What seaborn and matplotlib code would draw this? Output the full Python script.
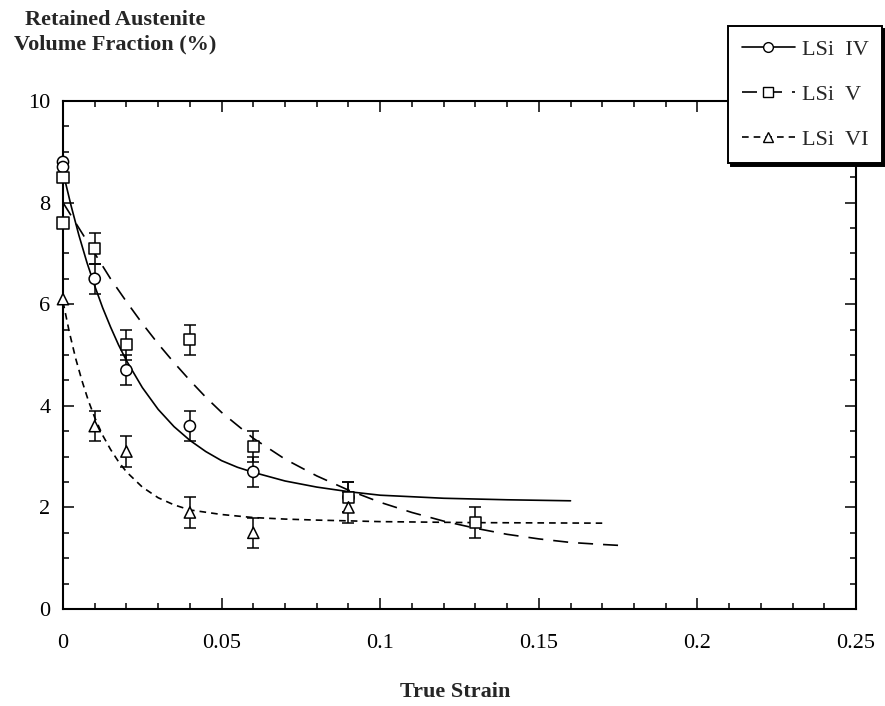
import numpy as np
import pandas as pd
import seaborn as sns
import matplotlib.pyplot as plt
from matplotlib.lines import Line2D
from matplotlib.ticker import MultipleLocator

sns.set_style("ticks")
plt.rcParams["font.family"] = ["Liberation Serif", "DejaVu Serif"]

# measured points (strain, retained austenite %, error)
iv_x = [0, 0, 0.01, 0.02, 0.04, 0.06, 0.09]
iv_y = [8.8, 8.7, 6.5, 4.7, 3.6, 2.7, 2.2]
iv_err = [0, 0, 0.3, 0.3, 0.3, 0.3, 0.3]

v_x = [0, 0, 0.01, 0.02, 0.04, 0.06, 0.09, 0.13]
v_y = [8.5, 7.6, 7.1, 5.2, 5.3, 3.2, 2.2, 1.7]
v_err = [0, 0, 0.3, 0.3, 0.3, 0.3, 0.3, 0.3]

vi_x = [0, 0.01, 0.02, 0.04, 0.06, 0.09]
vi_y = [6.1, 3.6, 3.1, 1.9, 1.5, 2.0]
vi_err = [0, 0.3, 0.3, 0.3, 0.3, 0.3]

# fitted curves
iv_fit_x = [0, 0.0025, 0.005, 0.0075, 0.01, 0.0125, 0.015, 0.0175, 0.02, 0.025, 0.03, 0.035,
            0.04, 0.045, 0.05, 0.055, 0.06, 0.07, 0.08, 0.09, 0.1, 0.12, 0.14, 0.16]
iv_fit_y = [8.6, 7.95, 7.36, 6.83, 6.36, 5.93, 5.55, 5.2, 4.89, 4.36, 3.93, 3.59,
            3.32, 3.1, 2.92, 2.79, 2.69, 2.52, 2.4, 2.31, 2.24, 2.18, 2.15, 2.13]

v_fit_x = [0, 0.005, 0.01, 0.015, 0.02, 0.025, 0.03, 0.035, 0.04, 0.045, 0.05, 0.06,
           0.07, 0.08, 0.09, 0.1, 0.11, 0.12, 0.13, 0.14, 0.15, 0.16, 0.17, 0.176]
v_fit_y = [8.0, 7.5, 7.0, 6.5, 6.05, 5.62, 5.22, 4.85, 4.5, 4.17, 3.87, 3.36,
           2.95, 2.62, 2.34, 2.1, 1.9, 1.73, 1.59, 1.47, 1.38, 1.31, 1.27, 1.25]

vi_fit_x = [0, 0.002, 0.004, 0.006, 0.008, 0.01, 0.0125, 0.015, 0.0175, 0.02, 0.025, 0.03,
            0.035, 0.04, 0.05, 0.06, 0.07, 0.08, 0.1, 0.13, 0.17]
vi_fit_y = [6.05, 5.45, 4.93, 4.49, 4.1, 3.77, 3.42, 3.14, 2.9, 2.7, 2.4, 2.19,
            2.05, 1.95, 1.86, 1.8, 1.77, 1.75, 1.72, 1.7, 1.69]

names = ["LSi  IV", "LSi  V", "LSi  VI"]
markers = {"LSi  IV": "o", "LSi  V": "s", "LSi  VI": "^"}
dashes = {"LSi  IV": "", "LSi  V": (9, 6), "LSi  VI": (4, 3)}

pts = pd.concat([
    pd.DataFrame({"x": iv_x, "y": iv_y, "err": iv_err, "series": names[0]}),
    pd.DataFrame({"x": v_x, "y": v_y, "err": v_err, "series": names[1]}),
    pd.DataFrame({"x": vi_x, "y": vi_y, "err": vi_err, "series": names[2]}),
])
fits = pd.concat([
    pd.DataFrame({"x": iv_fit_x, "y": iv_fit_y, "series": names[0]}),
    pd.DataFrame({"x": v_fit_x, "y": v_fit_y, "series": names[1]}),
    pd.DataFrame({"x": vi_fit_x, "y": vi_fit_y, "series": names[2]}),
])

fig = plt.figure(figsize=(8.85, 7.06), dpi=100)
ax = fig.add_axes([63 / 885, 1 - 609 / 706, (856 - 63) / 885, (609 - 101) / 706])

sns.lineplot(data=fits, x="x", y="y", style="series", dashes=dashes,
             color="black", linewidth=1.2, legend=False, ax=ax, sort=False)

err = pts[pts["err"] > 0]
ax.errorbar(err["x"], err["y"], yerr=err["err"], fmt="none", ecolor="black",
            elinewidth=1.1, capsize=4, capthick=1.1, zorder=3)

sns.scatterplot(data=pts, x="x", y="y", style="series", markers=markers,
                s=65, facecolor="white", edgecolor="black", linewidth=1.1,
                legend=False, ax=ax, zorder=4, clip_on=False)

ax.set_xlim(0, 0.25)
ax.set_ylim(0, 10)
ax.xaxis.set_major_locator(MultipleLocator(0.05))
ax.xaxis.set_minor_locator(MultipleLocator(0.01))
ax.yaxis.set_major_locator(MultipleLocator(2))
ax.yaxis.set_minor_locator(MultipleLocator(0.5))
ax.set_xticks([0, 0.05, 0.1, 0.15, 0.2, 0.25])
ax.set_xticklabels(["0", "0.05", "0.1", "0.15", "0.2", "0.25"])
ax.tick_params(which="both", direction="in", top=True, right=True,
               labelsize=16, colors="black", width=1.1)
ax.tick_params(which="major", length=8)
ax.tick_params(which="minor", length=4)
ax.tick_params(axis="x", which="major", pad=18)
ax.tick_params(axis="y", which="major", pad=9)
for s in ax.spines.values():
    s.set_linewidth(1.5)
    s.set_color("black")

ax.set_xlabel("")
ax.set_ylabel("")
fig.text(455 / 885, 1 - 692 / 706, "True Strain", ha="center", va="center",
         fontsize=16, fontweight="bold")
fig.text(115 / 885, 1 - 32 / 706, "Retained Austenite\nVolume Fraction (%)",
         ha="center", va="center", fontsize=16, fontweight="bold",
         linespacing=1.3)

handles = [Line2D([], [], color="black", lw=1.2, linestyle=(0, dashes[n]) if dashes[n] else "-",
                  marker=markers[n], markersize=7, markerfacecolor="white",
                  markeredgecolor="black") for n in names]
leg = ax.legend(handles, names, loc="upper right", bbox_to_anchor=(882 / 885, 1 - 26 / 706),
                bbox_transform=fig.transFigure, fontsize=16, frameon=True, fancybox=False,
                edgecolor="black", framealpha=1, handlelength=2.4, handletextpad=0.3,
                labelspacing=1.1, borderpad=0.6, borderaxespad=0,
                shadow={"color": "black", "alpha": 1, "ox": 2, "oy": -2})
leg.get_frame().set_linewidth(1.4)

fig.savefig("out.png", dpi=100)
